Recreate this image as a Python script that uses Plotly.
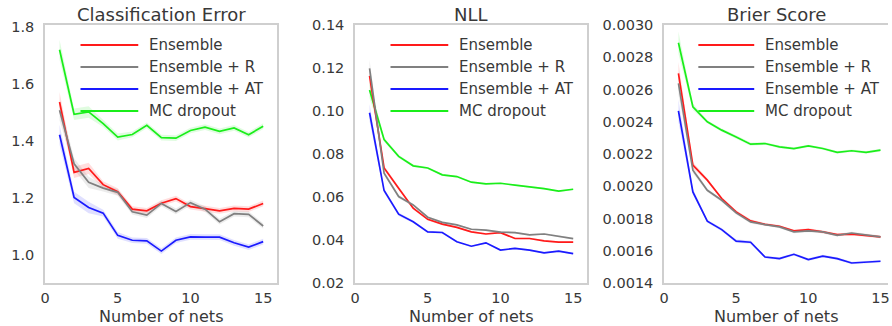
import plotly.graph_objects as go

nets = list(range(1, 16))

# Classification Error
ce_ens = [1.535, 1.288, 1.302, 1.245, 1.220, 1.159, 1.153, 1.180, 1.196, 1.168, 1.161, 1.153, 1.162, 1.159, 1.179]
ce_ens_r = [1.506, 1.318, 1.253, 1.233, 1.218, 1.150, 1.138, 1.179, 1.151, 1.182, 1.159, 1.115, 1.143, 1.141, 1.100]
ce_ens_at = [1.420, 1.200, 1.165, 1.145, 1.067, 1.050, 1.048, 1.012, 1.050, 1.062, 1.061, 1.061, 1.041, 1.026, 1.045]
ce_mc = [1.718, 1.492, 1.500, 1.459, 1.412, 1.421, 1.453, 1.410, 1.408, 1.435, 1.447, 1.432, 1.444, 1.420, 1.450]
ce_spread = [0.035, 0.02, 0.02, 0.012, 0.012, 0.01, 0.01, 0.01, 0.01, 0.01, 0.01, 0.01, 0.01, 0.01, 0.01]

# NLL
nll_ens = [0.1163, 0.0735, 0.0641, 0.0548, 0.0496, 0.0474, 0.0459, 0.0438, 0.0428, 0.0434, 0.0407, 0.0407, 0.0396, 0.0390, 0.0390]
nll_ens_r = [0.1198, 0.0711, 0.0602, 0.0563, 0.0506, 0.0482, 0.0470, 0.0450, 0.0446, 0.0437, 0.0434, 0.0424, 0.0428, 0.0418, 0.0406]
nll_ens_at = [0.0992, 0.0630, 0.0520, 0.0485, 0.0438, 0.0435, 0.0392, 0.0371, 0.0387, 0.0353, 0.0361, 0.0353, 0.0340, 0.0348, 0.0337]
nll_mc = [0.1098, 0.0867, 0.0789, 0.0745, 0.0735, 0.0703, 0.0695, 0.0669, 0.0661, 0.0664, 0.0655, 0.0647, 0.0639, 0.0627, 0.0636]
nll_spread = [0.004, 0.001, 0.0008, 0.0006, 0.0005, 0.0005, 0.0004, 0.0004, 0.0004, 0.0004, 0.0004, 0.0004, 0.0004, 0.0004, 0.0004]

# Brier Score
bs_ens = [0.002700, 0.002131, 0.002038, 0.001924, 0.001841, 0.001785, 0.001764, 0.001752, 0.001723, 0.001731, 0.001717, 0.001700, 0.001703, 0.001696, 0.001686]
bs_ens_r = [0.002638, 0.002100, 0.001975, 0.001913, 0.001835, 0.001779, 0.001762, 0.001748, 0.001717, 0.001723, 0.001717, 0.001696, 0.001710, 0.001700, 0.001686]
bs_ens_at = [0.002468, 0.001965, 0.001783, 0.001731, 0.001660, 0.001653, 0.001561, 0.001551, 0.001578, 0.001545, 0.001567, 0.001551, 0.001524, 0.001530, 0.001535]
bs_mc = [0.002890, 0.002493, 0.002400, 0.002348, 0.002306, 0.002261, 0.002265, 0.002244, 0.002234, 0.002250, 0.002234, 0.002210, 0.002220, 0.002210, 0.002224]
bs_spread = [0.00007, 0.00002, 0.00001, 0.00001, 0.00001, 0.00001, 0.000008, 0.000008, 0.000008, 0.000008, 0.000008, 0.000008, 0.000008, 0.000008, 0.000008]

series_names = ["Ensemble", "Ensemble + R", "Ensemble + AT", "MC dropout"]
colors = ["#ff1a1a", "#808080", "#1a1aff", "#1aee1a"]
fills = ["rgba(255,0,0,0.13)", "rgba(128,128,128,0.15)", "rgba(0,0,255,0.12)", "rgba(0,230,0,0.12)"]

panels = [
    ("Classification Error", [ce_ens, ce_ens_r, ce_ens_at, ce_mc], ce_spread, [0.9, 1.805], [1.0, 1.2, 1.4, 1.6, 1.8], ".1f"),
    ("NLL", [nll_ens, nll_ens_r, nll_ens_at, nll_mc], nll_spread, [0.02, 0.14], [0.02, 0.04, 0.06, 0.08, 0.10, 0.12, 0.14], ".2f"),
    ("Brier Score", [bs_ens, bs_ens_r, bs_ens_at, bs_mc], bs_spread, [0.0014, 0.0030], [0.0014, 0.0016, 0.0018, 0.0020, 0.0022, 0.0024, 0.0026, 0.0028, 0.0030], ".4f"),
]

W, H = 892, 326
x_doms = [[45 / W, 277 / W], [355 / W, 587 / W], [664 / W, 0.996]]
x_ranges = [[0, 15.95], [0, 15.95], [0, 15.55]]
y_dom = [(H - 283) / H, (H - 25) / H]

TEXT = "#383838"
FRAME = "#cfcfcf"
FONT = "DejaVu Sans"

fig = go.Figure()
shapes = []
annotations = []

for i, (title, data, spread, yr, yt, fmt) in enumerate(panels):
    sfx = "" if i == 0 else str(i + 1)
    xa, ya = "x" + sfx, "y" + sfx
    order = [3, 0, 1, 2]
    for k in order:
        vals = data[k]
        upper = [v + s for v, s in zip(vals, spread)]
        lower = [v - s for v, s in zip(vals, spread)]
        fig.add_trace(go.Scatter(
            x=nets + nets[::-1], y=upper + lower[::-1], fill="toself",
            fillcolor=fills[k], line=dict(width=0), mode="lines",
            hoverinfo="skip", showlegend=False, xaxis=xa, yaxis=ya))
    for k in order:
        fig.add_trace(go.Scatter(
            x=nets, y=data[k], mode="lines", name=series_names[k],
            line=dict(color=colors[k], width=1.7), showlegend=False,
            xaxis=xa, yaxis=ya))

    fig.layout["xaxis" + sfx] = dict(
        domain=x_doms[i], range=x_ranges[i], anchor=ya, automargin=False,
        tickvals=[0, 5, 10, 15], ticks="outside", ticklen=1,
        tickcolor="rgba(0,0,0,0)", showgrid=False, zeroline=False,
        showline=True, linecolor=FRAME, linewidth=1.5, mirror=True,
        ticklabeloverflow="allow",
        tickfont=dict(family=FONT, size=14.5, color=TEXT))
    fig.layout["yaxis" + sfx] = dict(
        domain=y_dom, range=yr, anchor=xa, automargin=False,
        tickvals=yt, tickformat=fmt, ticks="outside", ticklen=6,
        tickcolor="rgba(0,0,0,0)", showgrid=False, zeroline=False,
        showline=True, linecolor=FRAME, linewidth=1.5, mirror=(i < 2),
        ticklabeloverflow="allow",
        tickfont=dict(family=FONT, size=14.5, color=TEXT))

    annotations.append(dict(
        text=title, xref=xa + " domain", yref="paper", x=0.5, y=(H - 15) / H,
        xanchor="center", yanchor="middle", showarrow=False,
        font=dict(family=FONT, size=18, color=TEXT)))
    annotations.append(dict(
        text="Number of nets", xref=xa + " domain", yref="paper", x=0.5, y=(H - 316) / H,
        xanchor="center", yanchor="middle", showarrow=False,
        font=dict(family=FONT, size=16, color=TEXT)))

    leg_y = [0.922, 0.837, 0.752, 0.667]
    for r, k in enumerate([0, 1, 2, 3]):
        shapes.append(dict(type="line", xref=xa + " domain", yref=ya + " domain",
                           x0=0.153, x1=0.402, y0=leg_y[r], y1=leg_y[r],
                           line=dict(color=colors[k], width=2)))
        annotations.append(dict(
            text=series_names[k], xref=xa + " domain", yref=ya + " domain",
            x=0.44, y=leg_y[r], xanchor="left", yanchor="middle", showarrow=False,
            font=dict(family=FONT, size=15, color=TEXT)))

fig.update_layout(
    width=W, height=H, margin=dict(l=0, r=0, t=0, b=0),
    paper_bgcolor="white", plot_bgcolor="white",
    shapes=shapes, annotations=annotations, showlegend=False)

fig.write_html("out.html")
